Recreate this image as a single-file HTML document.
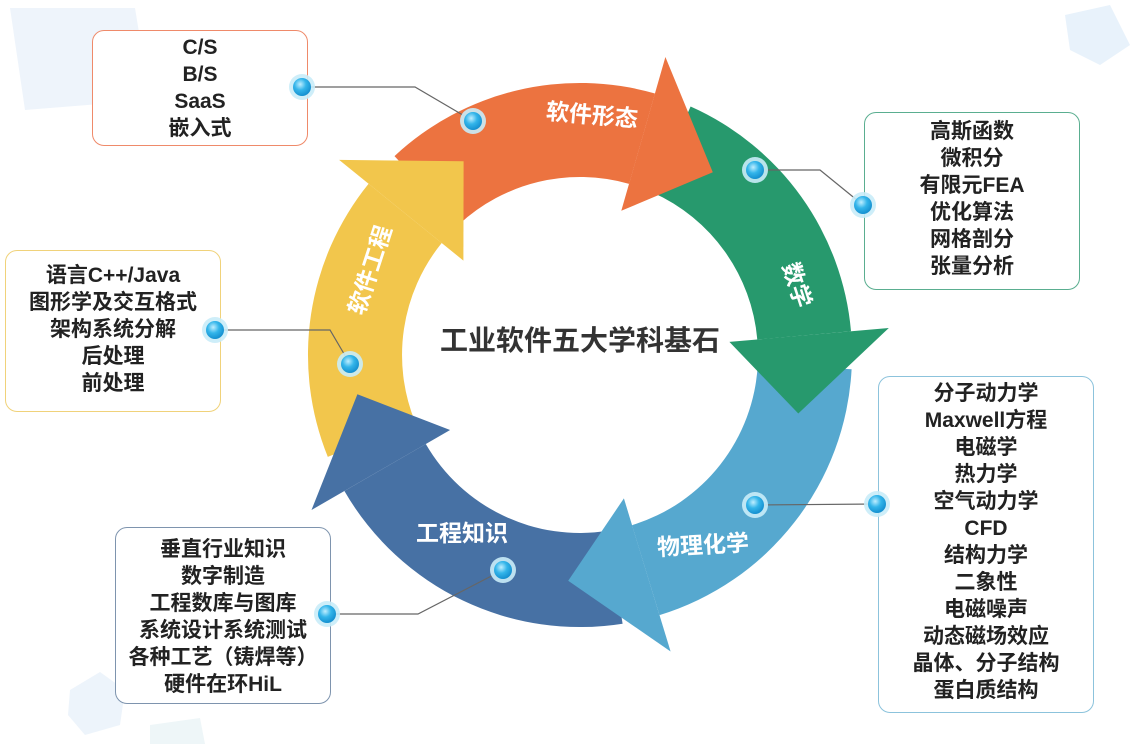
<!DOCTYPE html>
<html><head><meta charset="utf-8"><style>
body{margin:0;width:1134px;height:744px;background:#fff;overflow:hidden;position:relative;font-family:"Liberation Sans","Noto Sans CJK SC",sans-serif}
.box{position:absolute;border:1.5px solid;border-radius:12px;background:#fff;text-align:center;font-weight:bold;font-size:21px;line-height:27px;color:#222;box-sizing:border-box}
svg{position:absolute;left:0;top:0}
</style></head><body>
<svg width="1134" height="744" id="bg">
<polygon points="10,8 135,8 150,100 25,110" fill="#eef4fb"/>
<polygon points="1065,15 1110,5 1130,45 1100,65 1070,50" fill="#e8f2fb"/>
<polygon points="70,690 100,672 125,690 120,725 85,735 68,715" fill="#edf4fb"/>
<polygon points="150,725 200,718 205,744 150,744" fill="#eef6f8"/>
</svg>
<div class="box" style="left:92px;top:30px;width:216px;height:116px;border-color:#ef8a6a;padding-top:3px">C/S<br>B/S<br>SaaS<br>嵌入式</div>
<div class="box" style="left:864px;top:112px;width:216px;height:178px;border-color:#5aae90;padding-top:5px">高斯函数<br>微积分<br>有限元FEA<br>优化算法<br>网格剖分<br>张量分析</div>
<div class="box" style="left:5px;top:250px;width:216px;height:162px;border-color:#f0d27a;padding-top:11px">语言C++/Java<br>图形学及交互格式<br>架构系统分解<br>后处理<br>前处理</div>
<div class="box" style="left:878px;top:376px;width:216px;height:337px;border-color:#8cc3dc;padding-top:3px">分子动力学<br>Maxwell方程<br>电磁学<br>热力学<br>空气动力学<br>CFD<br>结构力学<br>二象性<br>电磁噪声<br>动态磁场效应<br>晶体、分子结构<br>蛋白质结构</div>
<div class="box" style="left:115px;top:527px;width:216px;height:177px;border-color:#7e94ae;padding-top:8px">垂直行业知识<br>数字制造<br>工程数库与图库<br>系统设计系统测试<br>各种工艺（铸焊等）<br>硬件在环HiL</div>
<svg width="1134" height="744">
<defs><radialGradient id="ball" cx="40%" cy="35%" r="65%"><stop offset="0" stop-color="#bfeeff"/><stop offset="0.5" stop-color="#33b5ea"/><stop offset="1" stop-color="#1590d0"/></radialGradient></defs>
<g id="ring"></g>
<g fill="none" stroke="#666" stroke-width="1.2">
<polyline points="302,87 415,87 473,121"/>
<polyline points="755,170 820,170 863,205"/>
<polyline points="215,330 330,330 350,364"/>
<polyline points="755,505 877,504"/>
<polyline points="503,570 418,614 327,614"/>
</g>
<g id="dots"></g>
<g font-weight="bold" fill="#fff" font-size="23" font-family="Liberation Sans,Noto Sans CJK SC,sans-serif" text-anchor="middle">
<text x="592" y="123" transform="rotate(5 592 115)">软件形态</text>
<text x="797" y="293" transform="rotate(72 797 285)">数学</text>
<text x="703" y="553" transform="rotate(-3 703 545)">物理化学</text>
<text x="462" y="541">工程知识</text>
<text x="370" y="278" transform="rotate(-72 370 270)">软件工程</text>
</g>
<text x="580" y="350" text-anchor="middle" font-size="28" font-weight="bold" fill="#333" font-family="Liberation Sans,Noto Sans CJK SC,sans-serif">工业软件五大学科基石</text>
</svg>
<script>
var cx=580,cy=355,R=272,r=178;
function P(a,rad){a=a*Math.PI/180;return [(cx+rad*Math.cos(a)).toFixed(1),(cy+rad*Math.sin(a)).toFixed(1)].join(',');}
var segs=[["#f2c64c",-121],["#ec7340",-54],["#27996d",15],["#56a8cf",93],["#4771a4",170]];
var bodies="",heads="";
for(var i=0;i<5;i++){
 var prev=segs[(i+4)%5][1],tip=segs[i][1];
 if(prev>tip)prev-=360;
 var s=prev-12,e=tip-20;
 bodies+='<path fill="'+segs[i][0]+'" d="M'+P(s,R)+' A'+R+','+R+' 0 0 1 '+P(e,R)+' L'+P(e,r)+' A'+r+','+r+' 0 0 0 '+P(s,r)+'Z"/>';
 heads+='<polygon fill="'+segs[i][0]+'" points="'+P(e,150)+' '+P(e,310)+' '+P(tip,226)+'"/>';
}
document.getElementById('ring').innerHTML=bodies+heads;
var d=[[302,87],[473,121],[755,170],[863,205],[215,330],[350,364],[755,505],[877,504],[327,614],[503,570]],s="";
d.forEach(function(p){s+='<circle cx="'+p[0]+'" cy="'+p[1]+'" r="13" fill="#c9ecf8" opacity="0.9"/><circle cx="'+p[0]+'" cy="'+p[1]+'" r="9" fill="url(#ball)"/>';});
document.getElementById('dots').innerHTML=s;
</script>
</body></html>
